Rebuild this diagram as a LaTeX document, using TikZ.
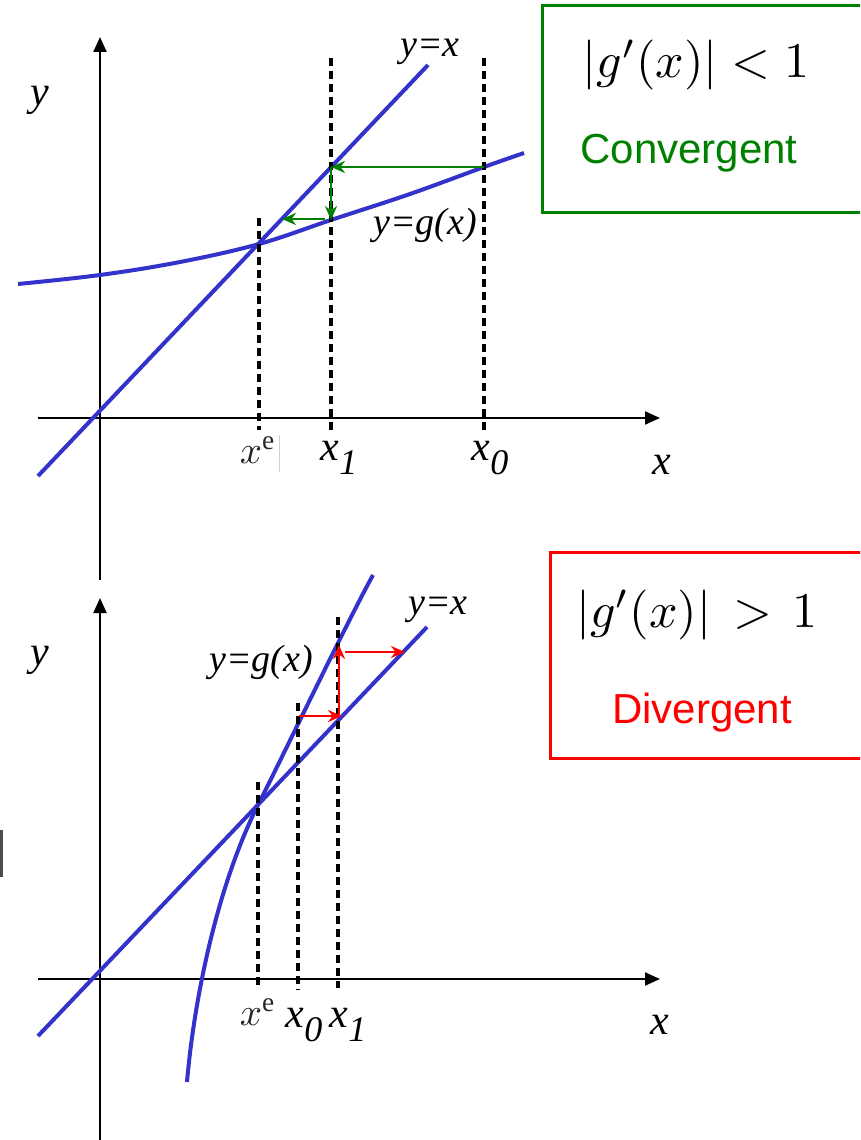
\documentclass[tikz,border=0pt]{standalone}
\usepackage{graphicx}
\usepackage{fontspec}
\setmainfont{Liberation Serif}
\newfontfamily\timesf{Liberation Serif}[ItalicFont={Liberation Serif Italic}]
\newfontfamily\arialf{Liberation Sans}
\usetikzlibrary{arrows.meta}
\definecolor{cblue}{RGB}{51,51,204}
\definecolor{cgreen}{RGB}{0,128,0}
\definecolor{cred}{RGB}{255,0,0}
\tikzset{
  axis/.style={line width=2pt, -{Triangle[length=15pt,width=13pt]}},
  curve/.style={line width=4pt, cblue},
  guide/.style={line width=3.2pt, dash pattern=on 8pt off 5pt},
  garrow/.style={line width=2.5pt, cgreen, -{Stealth[length=14pt,width=12pt]}},
  rarrow/.style={line width=2.5pt, cred, -{Stealth[length=14pt,width=12pt]}},
  axlbl/.style={inner sep=0pt, font=\fontsize{42}{44}\timesf\itshape},
  crvlbl/.style={inner sep=0pt, font=\fontsize{38}{40}\timesf\itshape},
  xelbl/.style={inner sep=0pt, text=black!85},
  frm/.style={inner sep=0pt},
  word/.style={inner sep=0pt, font=\fontsize{42}{46}\arialf},
}
\newcommand{\subx}[1]{x\raisebox{-0.32em}{\fontsize{36}{36}\selectfont #1}}
\begin{document}
\begin{tikzpicture}[x=1pt,y=-1pt]
\useasboundingbox (0,0) rectangle (860,1140);
\clip (0,0) rectangle (860,1140);

% ---------------- top graph ----------------
\coordinate (tyb) at (100,580);
\coordinate (tyt) at (100,37);
\coordinate (txl) at (38,418);
\coordinate (txr) at (660,418);
\draw[axis] (tyb) -- (tyt);
\draw[axis] (txl) -- (txr);

\coordinate (tla) at (38,476);
\coordinate (tlb) at (428,65);
\draw[curve] (tla) -- (tlb);
\draw[curve] plot[smooth, tension=0.6] coordinates {(18,284) (100,275) (180,262) (259,244) (331,220) (410,194) (484,167) (524,153)};

\coordinate (tdeT) at (259,218); \coordinate (tdeB) at (259,430);
\coordinate (td1T) at (331,58);  \coordinate (td1B) at (331,432);
\coordinate (td0T) at (484,58);  \coordinate (td0B) at (484,432);
\draw[guide] (tdeT) -- (tdeB);
\draw[guide] (td1T) -- (td1B);
\draw[guide] (td0T) -- (td0B);

\coordinate (tg0) at (484,167);
\coordinate (tg1) at (331,167);
\coordinate (tg2) at (331,220);
\coordinate (tg3) at (325,219);
\coordinate (tg4) at (282,219);
\draw[garrow] (tg0) -- (tg1);
\draw[garrow] (tg1) -- (tg2);
\draw[garrow] (tg3) -- (tg4);

\draw[gray!35, line width=1pt] (279,435) -- (279,472);

\node[axlbl] (ty) at (40,100) {y};
\node[axlbl] (tx) at (662,465) {x};
\node[crvlbl] (tyx) at (430,52) {y=x};
\node[crvlbl] (tyg) at (425,225) {y=g(x)};
\node[xelbl] (txe) at (258,450) {\scalebox{3.9}{$x^{\mathrm{e}}$}};
\node[axlbl] (tx1) at (339,458) {\subx{1}};
\node[axlbl] (tx0) at (490,458) {\subx{0}};

\draw[cgreen, line width=3pt] (542,6) rectangle (875,212);
\node[frm] (tf) at (696,65) {\scalebox{5}{$|g'(x)|<1$}};
\node[word, text=cgreen] (tc) at (689,153) {Convergent};

% ---------------- bottom graph ----------------
\coordinate (byb) at (100,1145);
\coordinate (byt) at (100,598);
\coordinate (bxl) at (38,979);
\coordinate (bxr) at (660,979);
\draw[axis] (byb) -- (byt);
\draw[axis] (bxl) -- (bxr);

\coordinate (bla) at (38,1036);
\coordinate (blb) at (427,627);
\draw[curve] (bla) -- (blb);
\coordinate (bga) at (187,1082);
\coordinate (bgm) at (258,805);
\coordinate (bgb) at (373,575);
\draw[curve] (bga) .. controls (195,990) and (220,880) .. (bgm)
  .. controls (283,756) and (345,626) .. (bgb);

\coordinate (bdeT) at (258,782); \coordinate (bdeB) at (258,985);
\coordinate (bd0T) at (298,703); \coordinate (bd0B) at (298,990);
\coordinate (bd1T) at (338,617); \coordinate (bd1B) at (338,988);
\draw[guide] (bdeT) -- (bdeB);
\draw[guide] (bd0T) -- (bd0B);
\draw[guide] (bd1T) -- (bd1B);

\coordinate (br0) at (299,716);
\coordinate (br1) at (342,716);
\coordinate (br2) at (339,716);
\coordinate (br3) at (339,645);
\coordinate (br4) at (345,652);
\coordinate (br5) at (405,652);
\draw[rarrow] (br0) -- (br1);
\draw[rarrow] (br2) -- (br3);
\draw[rarrow] (br4) -- (br5);

\draw[black!70, line width=3pt] (1.5,830) -- (1.5,877);

\node[axlbl] (by) at (40,660) {y};
\node[axlbl] (bx) at (660,1025) {x};
\node[crvlbl] (byx) at (438,610) {y=x};
\node[crvlbl] (byg) at (261,662) {y=g(x)};
\node[xelbl] (bxe) at (258,1012) {\scalebox{3.9}{$x^{\mathrm{e}}$}};
\node[axlbl] (bx0) at (304,1025) {\subx{0}};
\node[axlbl] (bx1) at (348,1025) {\subx{1}};

\draw[cred, line width=3pt] (550,552) rectangle (875,758);
\node[frm] (bf) at (697,615) {\scalebox{5}{$|g'(x)|\hspace{4.5pt}{>}\hspace{4pt}1$}};
\node[word, text=cred] (bd) at (702,713) {Divergent};
\end{tikzpicture}
\end{document}
